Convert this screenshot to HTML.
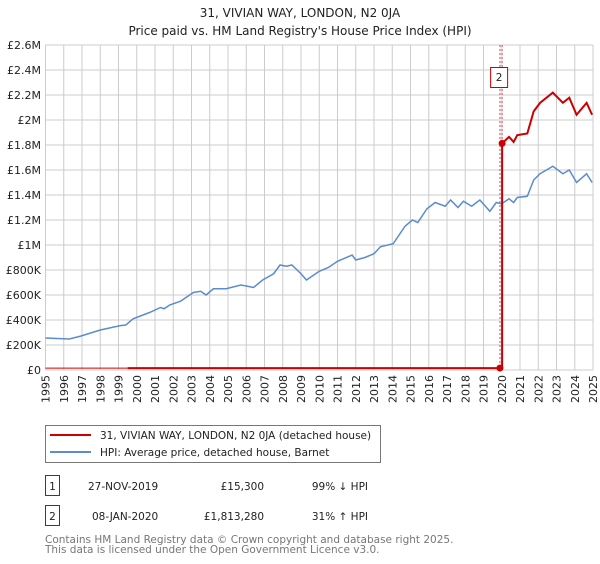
<!DOCTYPE html>
<html><head><meta charset="utf-8"><style>
body{margin:0;background:#fff;font-family:"DejaVu Sans","Liberation Sans",sans-serif;}
svg text{font-family:"DejaVu Sans","Liberation Sans",sans-serif;}
</style></head><body>
<svg id="c" width="600" height="560" viewBox="0 0 600 560" xmlns="http://www.w3.org/2000/svg">
<text x="300" y="17" text-anchor="middle" font-size="12" fill="#222">31, VIVIAN WAY, LONDON, N2 0JA</text>
<text x="300" y="35" text-anchor="middle" font-size="12" fill="#222">Price paid vs. HM Land Registry's House Price Index (HPI)</text>
<g id="grid"></g><g id="axes"></g><g id="series"></g>
<rect x="45.5" y="425.5" width="335" height="37" fill="#fff" stroke="#777"/>
<line x1="50" y1="435" x2="91" y2="435" stroke="#cc0000" stroke-width="2"/>
<text x="100" y="439" font-size="10.5" fill="#222">31, VIVIAN WAY, LONDON, N2 0JA (detached house)</text>
<line x1="50" y1="452" x2="91" y2="452" stroke="#5b8bd0" stroke-width="2"/>
<text x="100" y="456" font-size="10.5" fill="#222">HPI: Average price, detached house, Barnet</text>
<rect x="45.5" y="475.5" width="14" height="20" fill="none" stroke="#cc0000"/>
<text x="52.5" y="490" text-anchor="middle" font-size="10.5" fill="#222">1</text>
<text x="88" y="490" font-size="10.5" fill="#222">27-NOV-2019</text>
<text x="264" y="490" text-anchor="end" font-size="10.5" fill="#222">£15,300</text>
<text x="368" y="490" text-anchor="end" font-size="10.5" fill="#222">99% ↓ HPI</text>
<rect x="45.5" y="505.5" width="14" height="20" fill="none" stroke="#cc0000"/>
<text x="52.5" y="520" text-anchor="middle" font-size="10.5" fill="#222">2</text>
<text x="92" y="520" font-size="10.5" fill="#222">08-JAN-2020</text>
<text x="264" y="520" text-anchor="end" font-size="10.5" fill="#222">£1,813,280</text>
<text x="368" y="520" text-anchor="end" font-size="10.5" fill="#222">31% ↑ HPI</text>
<text x="45" y="543" font-size="10.5" fill="#777">Contains HM Land Registry data © Crown copyright and database right 2025.</text>
<text x="45" y="553" font-size="10.5" fill="#777">This data is licensed under the Open Government Licence v3.0.</text>
</svg>
<script>
const hpiYears=[1995,1996.3,1996.9,1998,1999.1,1999.4,1999.8,2000.7,2001.3,2001.5,2001.8,2002.4,2002.8,2003.1,2003.5,2003.8,2004.2,2004.9,2005.7,2006,2006.4,2006.9,2007.5,2007.85,2008.2,2008.5,2009,2009.3,2010,2010.5,2011,2011.8,2012,2012.5,2013,2013.35,2014.05,2014.7,2015.1,2015.4,2015.9,2016.35,2016.9,2017.2,2017.6,2017.9,2018.35,2018.8,2019.35,2019.7,2020,2020.4,2020.65,2020.85,2021.4,2021.75,2022.1,2022.8,2023.35,2023.7,2024.1,2024.65,2024.95];
const hpiValues=[256000,248000,270000,320000,355000,360000,410000,460000,500000,490000,520000,550000,590000,620000,630000,600000,650000,650000,680000,672000,660000,720000,770000,840000,830000,840000,770000,720000,790000,820000,870000,920000,880000,900000,930000,986000,1010000,1150000,1200000,1180000,1290000,1340000,1310000,1360000,1300000,1350000,1310000,1360000,1270000,1340000,1330000,1370000,1340000,1380000,1390000,1520000,1570000,1630000,1570000,1600000,1500000,1570000,1500000];
const saleYears=[2019.9,2020.02];
const salePrices=[15300,1813280];
const yTicks=[0,200000,400000,600000,800000,1000000,1200000,1400000,1600000,1800000,2000000,2200000,2400000,2600000];
const yTickLabels=["£0","£200K","£400K","£600K","£800K","£1M","£1.2M","£1.4M","£1.6M","£1.8M","£2M","£2.2M","£2.4M","£2.6M"];
const xTicks=[1995,1996,1997,1998,1999,2000,2001,2002,2003,2004,2005,2006,2007,2008,2009,2010,2011,2012,2013,2014,2015,2016,2017,2018,2019,2020,2021,2022,2023,2024,2025];
const NS="http://www.w3.org/2000/svg";
const X0=45.5,X1=593,Y0=370,Y1=45;
const xs=y=>X0+(y-1995)/30*(X1-X0);
const ys=v=>Y0-v/2600000*(Y0-Y1);
function mk(t,a,p){const e=document.createElementNS(NS,t);for(const k in a)e.setAttribute(k,a[k]);p.appendChild(e);return e;}
const grid=document.getElementById('grid'),axes=document.getElementById('axes'),ser=document.getElementById('series');
yTicks.forEach((v,i)=>{
 const l=mk('line',{x1:X0,x2:X1,y1:ys(v),y2:ys(v),stroke:'#ccc'},grid);
 
 
 const t=mk('text',{x:41,y:ys(v)+4,'text-anchor':'end','font-size':11,fill:'#222'},axes);
 t.textContent=yTickLabels[i];
 
 
});
xTicks.forEach(y=>{
 const l=mk('line',{x1:xs(y),x2:xs(y),y1:Y1,y2:Y0,stroke:'#ccc'},grid);
 
 
 const t=mk('text',{x:0,y:0,'text-anchor':'end','font-size':11,fill:'#222',transform:`translate(${xs(y)+4},${Y0+5}) rotate(-90)`},axes);
 t.textContent=y;
 
 
});
const sh=mk('rect',{x:xs(saleYears[0]),y:Y1,width:xs(saleYears[1])-xs(saleYears[0]),height:Y0-Y1,fill:'#dde6f5',opacity:0.6},grid);


saleYears.forEach((y,i)=>{
 const l=mk('line',{x1:xs(y),x2:xs(y),y1:Y1,y2:Y0,stroke:'#e05050','stroke-dasharray':'2,2'},grid);
 
 
});
const hp=mk('polyline',{points:hpiYears.map((y,i)=>xs(y)+','+ys(hpiValues[i])).join(' '),fill:'none',stroke:'#5b8bd0','stroke-width':1.5},ser);


function hpiAt(y){for(let i=1;i<hpiYears.length;i++){if(y<=hpiYears[i]){const f=(y-hpiYears[i-1])/(hpiYears[i]-hpiYears[i-1]);return hpiValues[i-1]+f*(hpiValues[i]-hpiValues[i-1]);}}return hpiValues[hpiValues.length-1];}
const k=salePrices[1]/hpiAt(saleYears[1]);
let pts=[[1999.5,salePrices[0]],[saleYears[1],salePrices[0]],[saleYears[1],salePrices[1]]];
hpiYears.forEach((y,i)=>{if(y>saleYears[1])pts.push([y,hpiValues[i]*k]);});
const pp=mk('polyline',{points:pts.map(p=>xs(p[0])+','+ys(p[1])).join(' '),fill:'none',stroke:'#cc0000','stroke-width':2},ser);


const pe=mk('line',{x1:X0,x2:xs(1999.5),y1:ys(salePrices[0]),y2:ys(salePrices[0]),stroke:'#cc0000','stroke-width':1},ser);


saleYears.forEach((y,i)=>{
 const c=mk('circle',{cx:xs(y),cy:ys(salePrices[i]),r:3.5,fill:'#cc0000'},ser);
 
 
});
const bx=xs(saleYears[1]);
const b=mk('rect',{x:bx-11.5,y:67.5,width:17,height:20,fill:'#fff',stroke:'#cc0000'},ser);


const bt=mk('text',{x:bx-3,y:81,'text-anchor':'middle','font-size':10.5,fill:'#222'},ser);
bt.textContent='2';


</script>
</body></html>
